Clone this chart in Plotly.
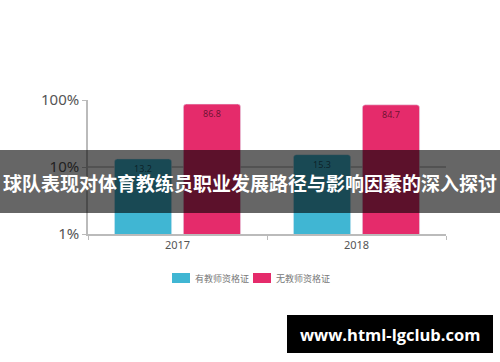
import plotly.graph_objects as go

years = ["2017", "2018"]
with_cert = [13.2, 15.3]
without_cert = [86.8, 84.7]
series_names = ["有教师资格证", "无教师资格证"]
series_colors = ["#40b6d3", "#e52b6b"]
title_text = "球队表现对体育教练员职业发展路径与影响因素的深入探讨"
watermark = "www.html-lgclub.com"

W, H = 500, 362
L, R, T, B = 88, 54, 100, 128
pw, ph = W - L - R, H - T - B

def px_x(p):
    return (p - L) / pw

def px_y(p):
    return (H - B - p) / ph

fig = go.Figure()
for name, vals, col in zip(series_names, [with_cert, without_cert], series_colors):
    fig.add_trace(go.Bar(
        x=years, y=vals, name=name,
        marker=dict(color=col, cornerradius=3),
        text=[f"{v}" for v in vals], textposition="inside",
        insidetextanchor="end", textfont=dict(size=9, color="rgba(0,0,0,0.55)"),
    ))

fig.update_layout(
    width=W, height=H,
    margin=dict(l=L, r=R, t=T, b=B),
    paper_bgcolor="white", plot_bgcolor="white",
    barmode="group", bargap=0.23, bargroupgap=0.17,
    font=dict(family="Noto Sans, Noto Sans CJK SC, sans-serif", color="#555555"),
    showlegend=False,
    xaxis=dict(showline=True, linecolor="#bbbbbb", linewidth=1.5,
               ticks="outside", tickson="boundaries", ticklen=4, tickcolor="#bbbbbb",
               tickfont=dict(size=11, color="#555555"), showgrid=False),
    yaxis=dict(type="log", range=[0, 2], tickvals=[1, 10, 100], ticktext=["1%", "10%", "100%"],
               showline=True, linecolor="#bbbbbb", linewidth=1.5,
               ticks="outside", ticklen=4, tickcolor="#bbbbbb",
               showgrid=True, gridcolor="#cccccc", gridwidth=1.5,
               tickfont=dict(size=15, color="#555555"), zeroline=False),
)

# legend drawn as swatches + labels
legend_swatch_x = [172, 253]
for sx, name, col in zip(legend_swatch_x, series_names, series_colors):
    fig.add_shape(type="rect", xref="paper", yref="paper",
                  x0=px_x(sx), x1=px_x(sx + 18), y0=px_y(283), y1=px_y(273),
                  fillcolor=col, line=dict(width=0), layer="above")
    fig.add_annotation(xref="paper", yref="paper", x=px_x(sx + 21), y=px_y(278),
                       text=name, showarrow=False, xanchor="left", yanchor="middle",
                       font=dict(size=9, color="#777777", family="Noto Sans CJK SC"))

fig.add_shape(type="rect", xref="paper", yref="paper",
              x0=px_x(0), x1=px_x(W), y0=px_y(213), y1=px_y(150),
              fillcolor="rgba(0,0,0,0.6)", line=dict(width=0), layer="above")
fig.add_annotation(xref="paper", yref="paper", x=px_x(250), y=px_y(182),
                   text=f"<b>{title_text}</b>", showarrow=False,
                   font=dict(size=19, color="white", family="Noto Sans CJK SC"),
                   xanchor="center", yanchor="middle")
fig.add_shape(type="rect", xref="paper", yref="paper",
              x0=px_x(287), x1=px_x(493), y0=px_y(353), y1=px_y(315),
              fillcolor="black", line=dict(width=0), layer="above")
fig.add_annotation(xref="paper", yref="paper", x=px_x(390), y=px_y(334),
                   text=f"<b>{watermark}</b>", showarrow=False,
                   font=dict(size=16.5, color="white", family="Open Sans"),
                   xanchor="center", yanchor="middle")

fig.write_html("out.html", config={"displayModeBar": False},
               post_script="document.body.style.margin='0';")
